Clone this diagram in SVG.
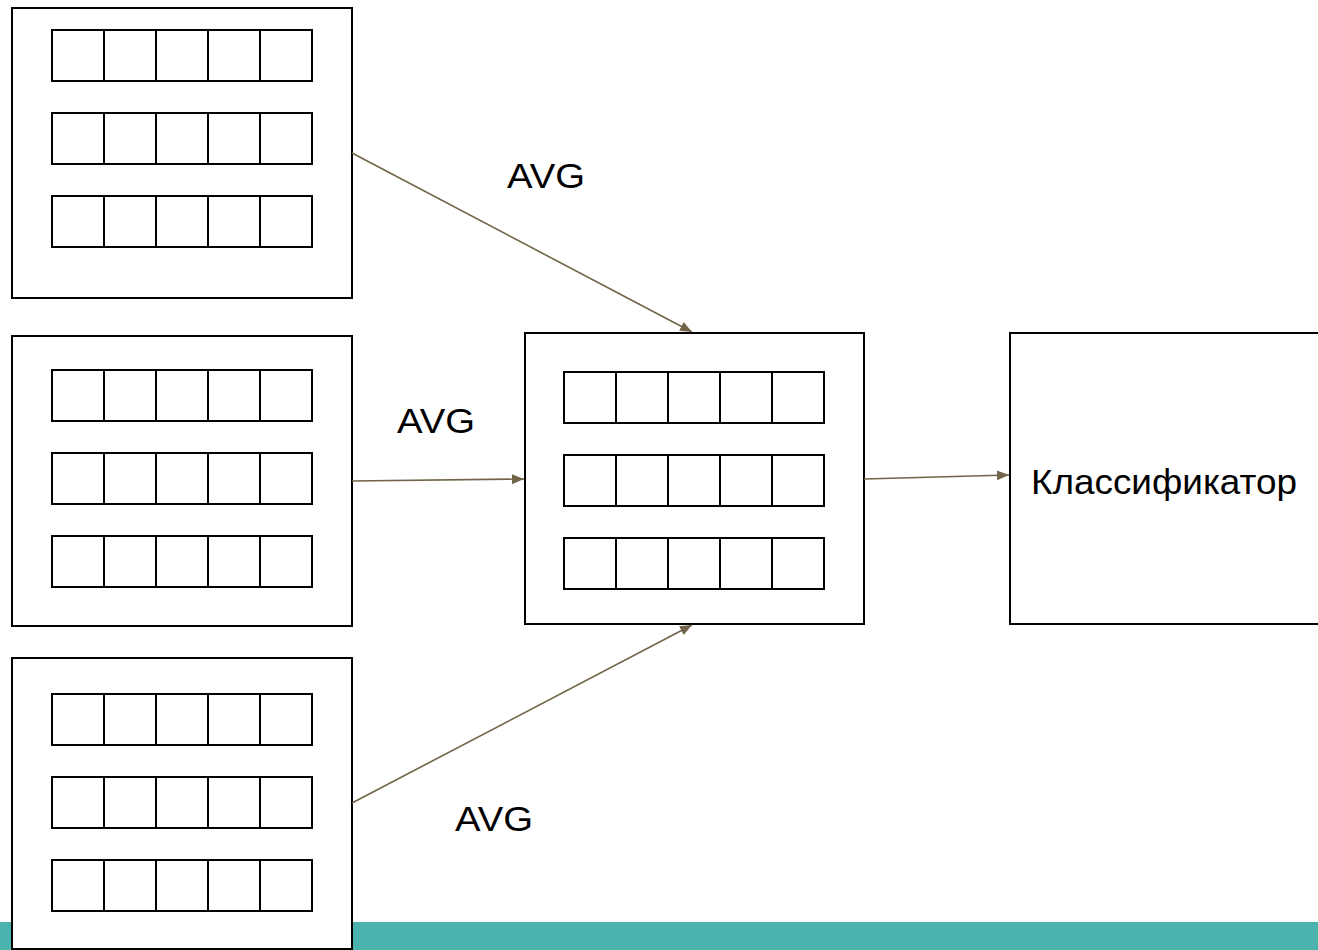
<svg xmlns="http://www.w3.org/2000/svg" width="1318" height="950" viewBox="0 0 1318 950">
<style>
.box{fill:#fff;stroke:#000;stroke-width:2}
.cell{fill:#fff;stroke:#000;stroke-width:2}
.conn{stroke:#716448;stroke-width:1.6;fill:none}
.lbl{font-family:"Liberation Sans",Arial,sans-serif;font-size:35px;fill:#000}
</style>
<defs>
<marker id="ah" markerUnits="userSpaceOnUse" markerWidth="14" markerHeight="12" refX="12" refY="5" orient="auto">
<path d="M0,0 L12,5 L0,10 Z" fill="#716448"/>
</marker>
<g id="row">
<rect class="cell" x="0" y="0" width="52" height="51"/>
<rect class="cell" x="52" y="0" width="52" height="51"/>
<rect class="cell" x="104" y="0" width="52" height="51"/>
<rect class="cell" x="156" y="0" width="52" height="51"/>
<rect class="cell" x="208" y="0" width="52" height="51"/>
</g>
</defs>
<rect x="0" y="922" width="1318" height="28" fill="#4bb3ad"/>
<g id="input1">
<rect class="box" x="12" y="8" width="340" height="290"/>
<use href="#row" x="52" y="30"/>
<use href="#row" x="52" y="113"/>
<use href="#row" x="52" y="196"/>
</g>
<g id="input2">
<rect class="box" x="12" y="336" width="340" height="290"/>
<use href="#row" x="52" y="370"/>
<use href="#row" x="52" y="453"/>
<use href="#row" x="52" y="536"/>
</g>
<g id="input3">
<rect class="box" x="12" y="658" width="340" height="291"/>
<use href="#row" x="52" y="694"/>
<use href="#row" x="52" y="777"/>
<use href="#row" x="52" y="860"/>
</g>
<g id="merged">
<rect class="box" x="525" y="333" width="339" height="291"/>
<use href="#row" x="564" y="372"/>
<use href="#row" x="564" y="455"/>
<use href="#row" x="564" y="538"/>
</g>
<g id="classifier">
<rect class="box" x="1010" y="333" width="320" height="291"/>
<text class="lbl" x="1031" y="494" textLength="266" lengthAdjust="spacingAndGlyphs">Классификатор</text>
</g>
<g id="connectors">
<line class="conn" x1="352" y1="153" x2="692" y2="332" marker-end="url(#ah)"/>
<line class="conn" x1="352" y1="481" x2="524" y2="479" marker-end="url(#ah)"/>
<line class="conn" x1="352" y1="803" x2="692" y2="625" marker-end="url(#ah)"/>
<line class="conn" x1="864" y1="479" x2="1009" y2="475" marker-end="url(#ah)"/>
<text class="lbl" x="507" y="188" textLength="78" lengthAdjust="spacingAndGlyphs">AVG</text>
<text class="lbl" x="397" y="433" textLength="78" lengthAdjust="spacingAndGlyphs">AVG</text>
<text class="lbl" x="455" y="831" textLength="78" lengthAdjust="spacingAndGlyphs">AVG</text>
</g>
</svg>
